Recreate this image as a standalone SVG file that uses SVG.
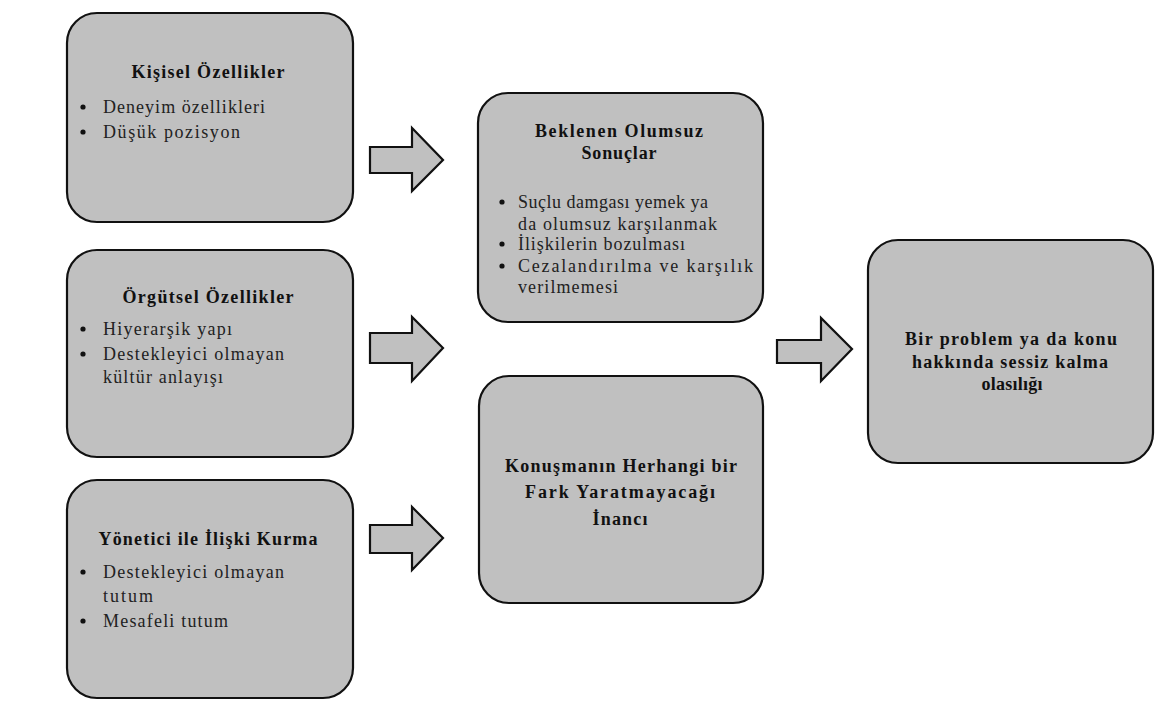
<svg xmlns="http://www.w3.org/2000/svg" width="1156" height="704" viewBox="0 0 1156 704">
<style>
.box{fill:#c0c0c0;stroke:#111;stroke-width:2.2}
.arr{fill:#c0c0c0;stroke:#111;stroke-width:2.2;stroke-linejoin:miter}
.t{font-family:'Liberation Serif','Times New Roman','DejaVu Serif',serif;font-size:18px;font-weight:bold;fill:#111;text-anchor:middle}
.b{font-family:'Liberation Serif','Times New Roman','DejaVu Serif',serif;font-size:18px;fill:#222}
.d{fill:#111}
</style>
<rect width="1156" height="704" fill="#fff"/>
<g id="connectors">
<path class="arr" d="M370,147 H412 V128 L443,160 L412,191 V173 H370 Z"/>
<path class="arr" d="M370,333 H412 V317 L443,348 L412,381 V363 H370 Z"/>
<path class="arr" d="M370,525 H412 V507 L443,538 L412,570 V553 H370 Z"/>
<path class="arr" d="M777,340 H821 V318 L852,349 L821,381 V363 H777 Z"/>
</g>
<g id="kisisel">
<rect class="box" x="67" y="13" width="286" height="209" rx="30"/>
<text class="t" x="208" y="78" textLength="153" lengthAdjust="spacing">Kişisel Özellikler</text>
<circle class="d" cx="83" cy="107" r="2.6"/><text class="b" x="103" y="113" textLength="162" lengthAdjust="spacing">Deneyim özellikleri</text>
<circle class="d" cx="83" cy="132" r="2.6"/><text class="b" x="103" y="138" textLength="137" lengthAdjust="spacing">Düşük pozisyon</text>
</g>
<g id="orgutsel">
<rect class="box" x="67" y="250" width="286" height="207" rx="30"/>
<text class="t" x="208" y="303" textLength="171" lengthAdjust="spacing">Örgütsel Özellikler</text>
<circle class="d" cx="83" cy="329" r="2.6"/><text class="b" x="103" y="335" textLength="129" lengthAdjust="spacing">Hiyerarşik yapı</text>
<circle class="d" cx="83" cy="354" r="2.6"/><text class="b" x="103" y="360" textLength="181" lengthAdjust="spacing">Destekleyici olmayan</text>
<text class="b" x="103" y="383" textLength="120" lengthAdjust="spacing">kültür anlayışı</text>
</g>
<g id="yonetici">
<rect class="box" x="67" y="480" width="286" height="218" rx="30"/>
<text class="t" x="208" y="545" textLength="219" lengthAdjust="spacing">Yönetici ile İlişki Kurma</text>
<circle class="d" cx="83" cy="572" r="2.6"/><text class="b" x="103" y="578" textLength="181" lengthAdjust="spacing">Destekleyici olmayan</text>
<text class="b" x="103" y="602" textLength="50" lengthAdjust="spacing">tutum</text>
<circle class="d" cx="83" cy="621" r="2.6"/><text class="b" x="103" y="627" textLength="125" lengthAdjust="spacing">Mesafeli tutum</text>
</g>
<g id="beklenen">
<rect class="box" x="478" y="93" width="285" height="229" rx="30"/>
<text class="t" x="619" y="137" textLength="168" lengthAdjust="spacing">Beklenen Olumsuz</text>
<text class="t" x="619" y="159" textLength="75" lengthAdjust="spacing">Sonuçlar</text>
<circle class="d" cx="502" cy="202" r="2.6"/><text class="b" x="518" y="208" textLength="190" lengthAdjust="spacing">Suçlu damgası yemek ya</text>
<text class="b" x="518" y="230" textLength="199" lengthAdjust="spacing">da olumsuz karşılanmak</text>
<circle class="d" cx="502" cy="244" r="2.6"/><text class="b" x="518" y="250" textLength="167" lengthAdjust="spacing">İlişkilerin bozulması</text>
<circle class="d" cx="502" cy="266" r="2.6"/><text class="b" x="518" y="272" textLength="235" lengthAdjust="spacing">Cezalandırılma ve karşılık</text>
<text class="b" x="518" y="293" textLength="100" lengthAdjust="spacing">verilmemesi</text>
</g>
<g id="konusma">
<rect class="box" x="479" y="376" width="284" height="227" rx="30"/>
<text class="t" x="621" y="472" textLength="232" lengthAdjust="spacing">Konuşmanın Herhangi bir</text>
<text class="t" x="620" y="498" textLength="190" lengthAdjust="spacing">Fark Yaratmayacağı</text>
<text class="t" x="620" y="525" textLength="55" lengthAdjust="spacing">İnancı</text>
</g>
<g id="sessiz">
<rect class="box" x="868" y="240" width="285" height="223" rx="30"/>
<text class="t" x="1011" y="345" textLength="212" lengthAdjust="spacing">Bir problem ya da konu</text>
<text class="t" x="1010" y="368" textLength="196" lengthAdjust="spacing">hakkında sessiz kalma</text>
<text class="t" x="1012" y="390" textLength="61" lengthAdjust="spacing">olasılığı</text>
</g>
</svg>
